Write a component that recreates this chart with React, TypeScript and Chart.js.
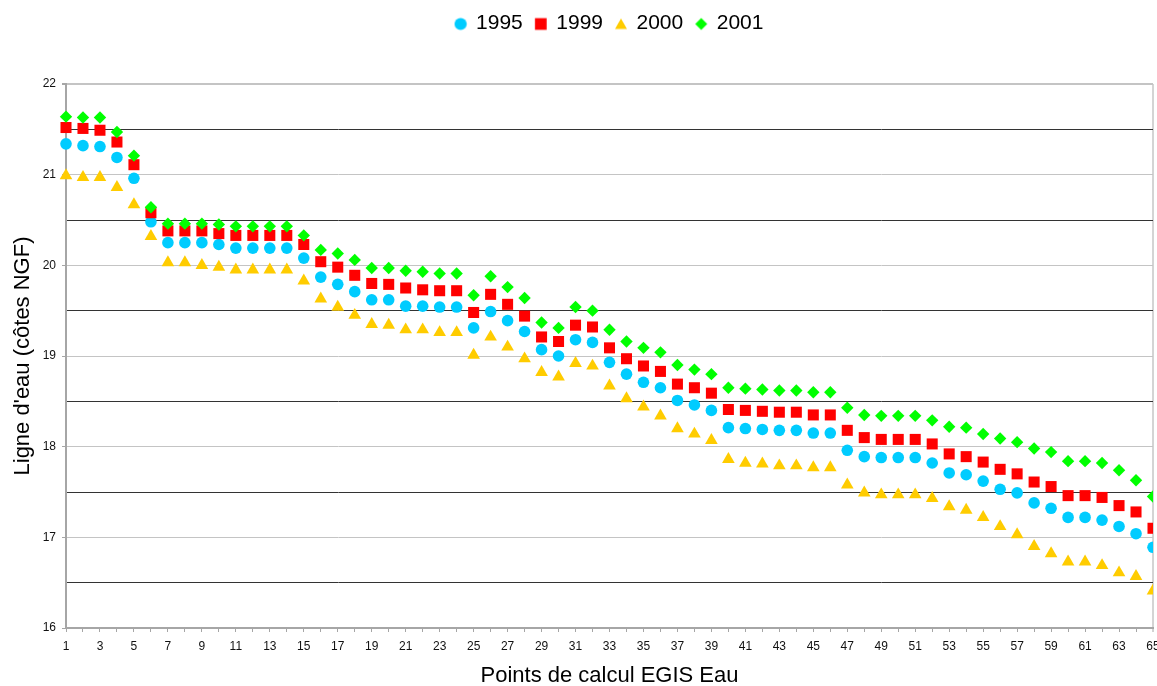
import React, { useEffect, useRef } from 'react';
import { Chart, registerables } from 'chart.js';

Chart.register(...registerables);

const FONT = "'Liberation Sans', Arial, sans-serif";

const categories = [
  1, 2, 3, 4, 5, 6, 7, 8, 9, 10, 11, 12, 13, 14, 15, 16, 17, 18, 19, 20,
  21, 22, 23, 24, 25, 26, 27, 28, 29, 30, 31, 32, 33, 34, 35, 36, 37, 38, 39, 40,
  41, 42, 43, 44, 45, 46, 47, 48, 49, 50, 51, 52, 53, 54, 55, 56, 57, 58, 59, 60,
  61, 62, 63, 64, 65,
];

const seriesLabels = ['1995', '1999', '2000', '2001'];

const values1995 = [
  21.34, 21.32, 21.31, 21.19, 20.96, 20.48, 20.25, 20.25, 20.25, 20.23,
  20.19, 20.19, 20.19, 20.19, 20.08, 19.87, 19.79, 19.71, 19.62, 19.62,
  19.55, 19.55, 19.54, 19.54, 19.31, 19.49, 19.39, 19.27, 19.07, 19.0,
  19.18, 19.15, 18.93, 18.8, 18.71, 18.65, 18.51, 18.46, 18.4, 18.21,
  18.2, 18.19, 18.18, 18.18, 18.15, 18.15, 17.96, 17.89, 17.88, 17.88,
  17.88, 17.82, 17.71, 17.69, 17.62, 17.53, 17.49, 17.38, 17.32, 17.22,
  17.22, 17.19, 17.12, 17.04, 16.89,
];

const values1999 = [
  21.52, 21.51, 21.49, 21.36, 21.11, 20.58, 20.38, 20.38, 20.38, 20.35,
  20.33, 20.33, 20.33, 20.33, 20.23, 20.04, 19.98, 19.89, 19.8, 19.79,
  19.75, 19.73, 19.72, 19.72, 19.48, 19.68, 19.57, 19.44, 19.21, 19.16,
  19.34, 19.32, 19.09, 18.97, 18.89, 18.83, 18.69, 18.65, 18.59, 18.41,
  18.4, 18.39, 18.38, 18.38, 18.35, 18.35, 18.18, 18.1, 18.08, 18.08,
  18.08, 18.03, 17.92, 17.89, 17.83, 17.75, 17.7, 17.61, 17.56, 17.46,
  17.46, 17.44, 17.35, 17.28, 17.1,
];

const values2000 = [
  20.99, 20.97, 20.97, 20.86, 20.67, 20.32, 20.03, 20.03, 20.0, 19.98,
  19.95, 19.95, 19.95, 19.95, 19.83, 19.63, 19.54, 19.45, 19.35, 19.34,
  19.29, 19.29, 19.26, 19.26, 19.01, 19.21, 19.1, 18.97, 18.82, 18.77,
  18.92, 18.89, 18.67, 18.53, 18.44, 18.34, 18.2, 18.14, 18.07, 17.86,
  17.82, 17.81, 17.79, 17.79, 17.77, 17.77, 17.58, 17.49, 17.47, 17.47,
  17.47, 17.43, 17.34, 17.3, 17.22, 17.12, 17.03, 16.9, 16.82, 16.73,
  16.73, 16.69, 16.61, 16.57, 16.41,
];

const values2001 = [
  21.64, 21.63, 21.63, 21.47, 21.21, 20.64, 20.46, 20.46, 20.46, 20.45,
  20.43, 20.43, 20.43, 20.43, 20.33, 20.17, 20.13, 20.06, 19.97, 19.97,
  19.94, 19.93, 19.91, 19.91, 19.67, 19.88, 19.76, 19.64, 19.37, 19.31,
  19.54, 19.5, 19.29, 19.16, 19.09, 19.04, 18.9, 18.85, 18.8, 18.65,
  18.64, 18.63, 18.62, 18.62, 18.6, 18.6, 18.43, 18.35, 18.34, 18.34,
  18.34, 18.29, 18.22, 18.21, 18.14, 18.09, 18.05, 17.98, 17.94, 17.84,
  17.84, 17.82, 17.74, 17.63, 17.45,
];

const seriesValues = [values1995, values1999, values2000, values2001];
const seriesColors = ['#00CCFF', '#FF0000', '#FFCC00', '#00FF00'];
const seriesStyles = ['circle', 'rect', 'triangle', 'rectRot'];
const seriesRadii = [5.8, 7.8, 7.3, 6.2];

const yTickLabels = [16, 17, 18, 19, 20, 21, 22];

function makeMarker(style: string, color: string): HTMLCanvasElement {
  const c = document.createElement('canvas');
  c.width = 14;
  c.height = 20;
  const ctx = c.getContext('2d')!;
  ctx.fillStyle = color;
  const cx = 7;
  const cy = 10.5;
  ctx.beginPath();
  if (style === 'circle') {
    ctx.arc(cx, cy, 6.1, 0, Math.PI * 2);
  } else if (style === 'rect') {
    ctx.rect(cx - 5.85, cy - 5.85, 11.7, 11.7);
  } else if (style === 'triangle') {
    ctx.moveTo(cx, cy - 5.5);
    ctx.lineTo(cx + 6, cy + 5);
    ctx.lineTo(cx - 6, cy + 5);
    ctx.closePath();
  } else {
    ctx.moveTo(cx, cy - 6);
    ctx.lineTo(cx + 6, cy);
    ctx.lineTo(cx, cy + 6);
    ctx.lineTo(cx - 6, cy);
    ctx.closePath();
  }
  ctx.fill();
  return c;
}

const legendHeightPlugin = {
  id: 'legendHeight',
  beforeLayout(chart: any) {
    const lg = chart.legend;
    if (lg && !lg._patchedFit) {
      const orig = lg.fit;
      lg.fit = function (this: any) {
        orig.call(this);
        this.height = 84;
      };
      lg._patchedFit = true;
    }
  },
};

export default function App() {
  const ref = useRef<HTMLCanvasElement | null>(null);

  useEffect(() => {
    document.body.style.margin = '0';
    if (!ref.current) return;
    const markers = seriesStyles.map((s, i) => makeMarker(s, seriesColors[i]));
    const datasets = seriesLabels.map((label, i) => ({
      label,
      data: seriesValues[i],
      showLine: false,
      pointStyle: seriesStyles[i] as any,
      pointRadius: seriesRadii[i],
      pointHoverRadius: seriesRadii[i],
      pointBackgroundColor: seriesColors[i],
      pointBorderWidth: 0,
      backgroundColor: seriesColors[i],
      borderColor: seriesColors[i],
      order: seriesLabels.length - i,
      clip: { left: false, top: false, right: 0, bottom: false } as any,
    }));

    const chart = new Chart(ref.current, {
      type: 'line',
      data: { labels: categories.map(String), datasets },
      plugins: [legendHeightPlugin],
      options: {
        animation: false,
        responsive: false,
        events: [],
        layout: {
          padding: { left: 0, right: 4, top: 0, bottom: 0 },
          autoPadding: false,
        } as any,
        plugins: {
          tooltip: { enabled: false },
          legend: {
            position: 'top',
            fullSize: false,
            align: 'center',
            labels: {
              usePointStyle: true,
              boxWidth: 10,
              boxHeight: 10,
              padding: 13,
              color: '#000',
              font: { family: FONT, size: 21 },
              generateLabels: () =>
                seriesLabels.map((label, i) => ({
                  text: label,
                  pointStyle: markers[i] as any,
                  fillStyle: seriesColors[i],
                  strokeStyle: 'rgba(0,0,0,0)',
                  lineWidth: 0,
                  hidden: false,
                  datasetIndex: i,
                })),
            },
          },
        },
        scales: {
          x: {
            type: 'category',
            offset: false,
            grid: {
              offset: false,
              drawOnChartArea: true,
              color: (ctx: any) =>
                ctx.index === categories.length - 1 ? '#d4d4d4' : 'rgba(0,0,0,0)',
              lineWidth: (ctx: any) => (ctx.index === categories.length - 1 ? 2 : 1),
              tickColor: '#a6a6a6',
              tickLength: 4,
              tickWidth: 1,
            },
            border: { color: '#a6a6a6', width: 2 },
            ticks: {
              autoSkip: false,
              maxRotation: 0,
              minRotation: 0,
              padding: 7,
              color: '#111',
              font: { family: FONT, size: 12 },
              callback: (_v: any, i: number) => (i % 2 === 0 ? String(categories[i]) : ''),
            },
            title: {
              display: true,
              text: 'Points de calcul EGIS Eau',
              color: '#000',
              font: { family: FONT, size: 22, lineHeight: 0.9 },
              padding: { top: 0, bottom: 0 },
            },
            afterFit: (s: any) => {
              s.height = 58;
              s.paddingLeft = 0;
              s.paddingRight = 0;
            },
          },
          y: {
            min: yTickLabels[0],
            max: yTickLabels[yTickLabels.length - 1],
            ticks: {
              stepSize: 0.5,
              padding: 6,
              color: '#111',
              font: { family: FONT, size: 12 },
              callback: (v: any) => (yTickLabels.includes(Number(v)) ? String(v) : ''),
            },
            grid: {
              color: (ctx: any) =>
                Number.isInteger(ctx.tick.value) ? '#c4c4c4' : '#333333',
              lineWidth: (ctx: any) => (ctx.tick.value === 22 ? 2 : 1),
              tickColor: (ctx: any) =>
                Number.isInteger(ctx.tick.value) ? '#a6a6a6' : 'rgba(0,0,0,0)',
              tickLength: 4,
            },
            border: { color: '#a6a6a6', width: 2 },
            title: {
              display: true,
              text: "Ligne d'eau (côtes NGF)",
              color: '#000',
              font: { family: FONT, size: 22 },
              padding: { top: 10, bottom: 0 },
            },
            afterFit: (s: any) => {
              s.width = 66;
              s.paddingTop = 0;
              s.paddingBottom = 0;
            },
          },
        },
      } as any,
    });
    return () => chart.destroy();
  }, []);

  return <canvas ref={ref} width={1157} height={686} style={{ display: 'block' }} />;
}
